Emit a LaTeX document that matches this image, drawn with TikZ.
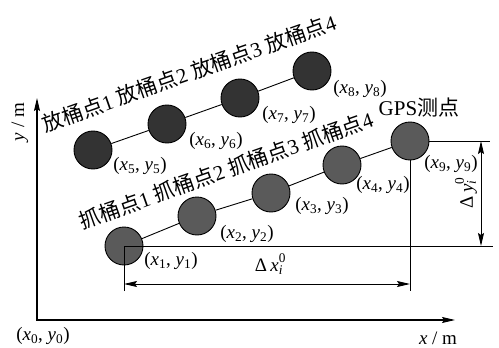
\documentclass[tikz,border=0pt]{standalone}
\usepackage{fontspec}
\setmainfont{Liberation Serif}
\newfontfamily\cjk{Noto Sans CJK SC}
\usetikzlibrary{arrows.meta}
\definecolor{topfill}{HTML}{333333}
\definecolor{botfill}{HTML}{5A5A5A}
\newcommand\ptl[1]{(\textit{x}\textsubscript{#1}, \textit{y}\textsubscript{#1})}
\newcommand\fangt{{\cjk 放桶点}}
\newcommand\zhuat{{\cjk 抓桶点}}
\newcommand\ssb[2]{\rlap{\raisebox{0.15em}{\textsuperscript{#2}}}\textsubscript{\itshape #1}}
\begin{document}
\begin{tikzpicture}[x=1pt,y=-1pt,
  dotA/.style={circle,draw=black,line width=0.9pt,fill=topfill,minimum size=38pt,inner sep=0pt},
  dotB/.style={circle,draw=black,line width=0.9pt,fill=botfill,minimum size=38pt,inner sep=0pt},
  lbl/.style={inner sep=0pt,font=\fontsize{19}{22}\selectfont},
  big/.style={inner sep=0pt,font=\fontsize{21}{25}\selectfont},
  link/.style={line width=0.9pt},
  dim/.style={line width=0.9pt},
  tip/.style={arrows={Stealth[length=13pt,width=6pt,inset=2pt]-Stealth[length=13pt,width=6pt,inset=2pt]}},
  axis/.style={line width=1.1pt}]
\useasboundingbox (0,0) rectangle (499,348);
% axes
\coordinate (o) at (37,320);
\coordinate (yt) at (37,98);
\coordinate (xt) at (455,320);
\draw[axis,tip] (yt) -- (o) -- (xt);
\node[lbl,rotate=90] (ylab) at (20,122) {\textit{y} / m};
\node[lbl] (xlab) at (438,338) {\textit{x} / m};
\node[lbl] (olab) at (43,336) {(\textit{x}\textsubscript{0}, \textit{y}\textsubscript{0})};
% top circles
\node[dotA] (c5) at (93,150) {};
\node[dotA] (c6) at (167,124) {};
\node[dotA] (c7) at (240,98) {};
\node[dotA] (c8) at (312,71) {};
\draw[link] (c5) -- (c6) -- (c7) -- (c8);
% bottom circles
\node[dotB] (c1) at (124,246) {};
\node[dotB] (c2) at (197,216) {};
\node[dotB] (c3) at (271,193) {};
\node[dotB] (c4) at (342,165) {};
\node[dotB] (c9) at (410,141) {};
\draw[link] (c1) -- (c2) -- (c3) -- (c4) -- (c9);
% point labels
\node[lbl] (l1) at (171,261) {\ptl{1}};
\node[lbl] (l2) at (247,234) {\ptl{2}};
\node[lbl] (l3) at (322,206) {\ptl{3}};
\node[lbl] (l4) at (383,185) {\ptl{4}};
\node[lbl] (l9) at (451,164) {\ptl{9}};
\node[lbl] (l5) at (140,166) {\ptl{5}};
\node[lbl] (l6) at (216,141) {\ptl{6}};
\node[lbl] (l7) at (289,115) {\ptl{7}};
\node[lbl] (l8) at (360,89) {\ptl{8}};
% row labels
\node[big,rotate=19.5] (ftext) at (189,73) {\fangt1 \fangt2 \fangt3 \fangt4};
\node[big,rotate=19.5] (ztext) at (226,170) {\zhuat1 \zhuat2 \zhuat3 \zhuat4};
\node[big] (gps) at (419,108) {GPS{\cjk 测点}};
% dimensions
\coordinate (a1) at (124,291);
\coordinate (e1) at (493,246);
\draw[dim] (a1) -- (c1.center) -- (e1);
\coordinate (a9) at (410,291);
\coordinate (e9) at (490,141);
\draw[dim] (c9.south) -- (a9);
\draw[dim] (c9.east) -- (e9);
\coordinate (dx1) at (124,284);
\coordinate (dx2) at (410,284);
\draw[dim,tip] (dx1) -- (dx2);
\node[lbl] (dxl) at (269,264) {Δ\,\textit{x}\ssb{i}{0}};
\coordinate (dy1) at (481,141);
\coordinate (dy2) at (481,246);
\draw[dim,tip] (dy1) -- (dy2);
\node[lbl,rotate=90] (dyl) at (466,194) {Δ\,\textit{y}\ssb{i}{0}};
\end{tikzpicture}
\end{document}
